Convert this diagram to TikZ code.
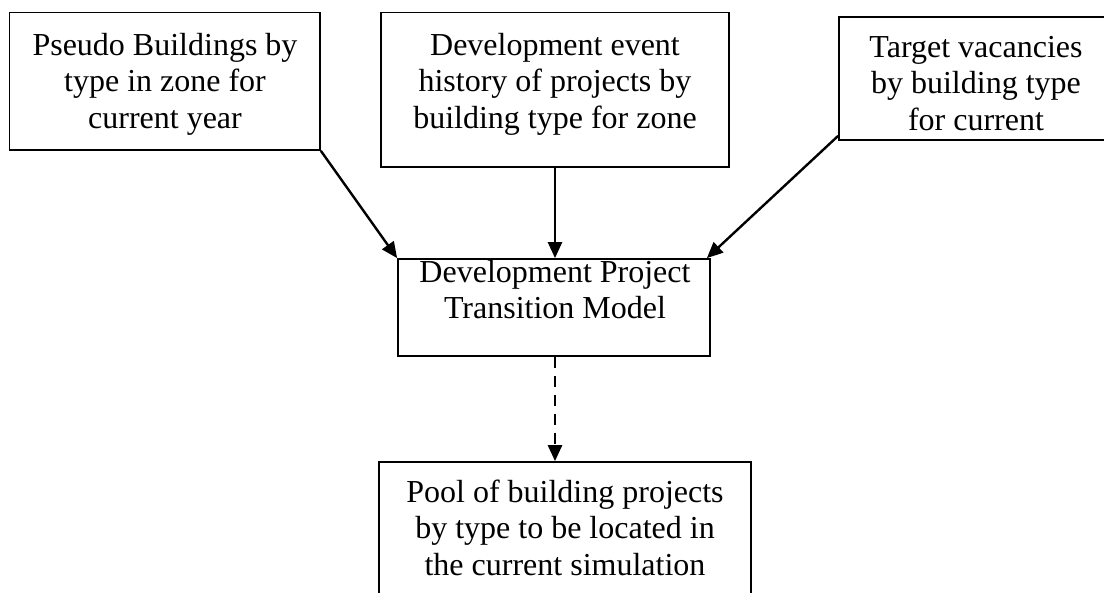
\documentclass[tikz,border=0pt]{standalone}
\usepackage{fontspec}
\setmainfont{Liberation Serif}
\usetikzlibrary{arrows.meta}
\tikzset{
  box/.style={draw=black, line width=1.3pt, fill=white, inner sep=0pt},
  label/.style={anchor=base, inner sep=0pt, font=\fontsize{24}{27.5}\selectfont},
  conn/.style={line width=1.8pt, -{Triangle[length=12pt, width=10.5pt]}},
  dashconn/.style={conn, line width=2pt, dash pattern=on 8.25pt off 6pt}
}
\newcommand{\mlines}[1]{\begin{tabular}[t]{@{}c@{}}#1\end{tabular}}
\begin{document}
\begin{tikzpicture}[x=0.75pt, y=-0.75pt]
\useasboundingbox (0,0) rectangle (1104,593);
\fill[white] (0,0) rectangle (1104,593);
\clip (0,0) rectangle (1104,593);
% boxes
\node[box, minimum width=232.8pt, minimum height=103.1pt] (A) at (164.8,81.25) {};
\node[box, minimum width=261pt, minimum height=115.9pt] (B) at (555,89.75) {};
\node[box, minimum width=225.75pt, minimum height=92.25pt] (C) at (989.5,78.5) {};
\node[box, minimum width=234pt, minimum height=72.75pt] (D) at (554,307.5) {};
\node[box, minimum width=279pt, minimum height=118.5pt] (E) at (565,541) {};
% texts
\node[label] (tA) at (165,55) {\mlines{Pseudo Buildings by\\type in zone for\\current year}};
\node[label] (tB) at (555,55) {\mlines{Development event\\history of projects by\\building type for zone}};
\node[label] (tC) at (976,57) {\mlines{Target vacancies\\by building type\\for current}};
\node[label] (tD) at (555,282) {\mlines{Development Project\\Transition Model}};
\node[label] (tE) at (565,502) {\mlines{Pool of building projects\\by type to be located in\\the current simulation}};
% connectors
\draw[conn] (A.south east) -- (D.north west);
\draw[conn] (B.south -| 555,0) -- (D.north -| 555,0);
\draw[conn] ([yshift=3.75pt]C.south west) -- ([xshift=-3pt]D.north east);
\draw[dashconn] (D.south -| 555,0) -- (E.north -| 555,0);
\end{tikzpicture}
\end{document}
